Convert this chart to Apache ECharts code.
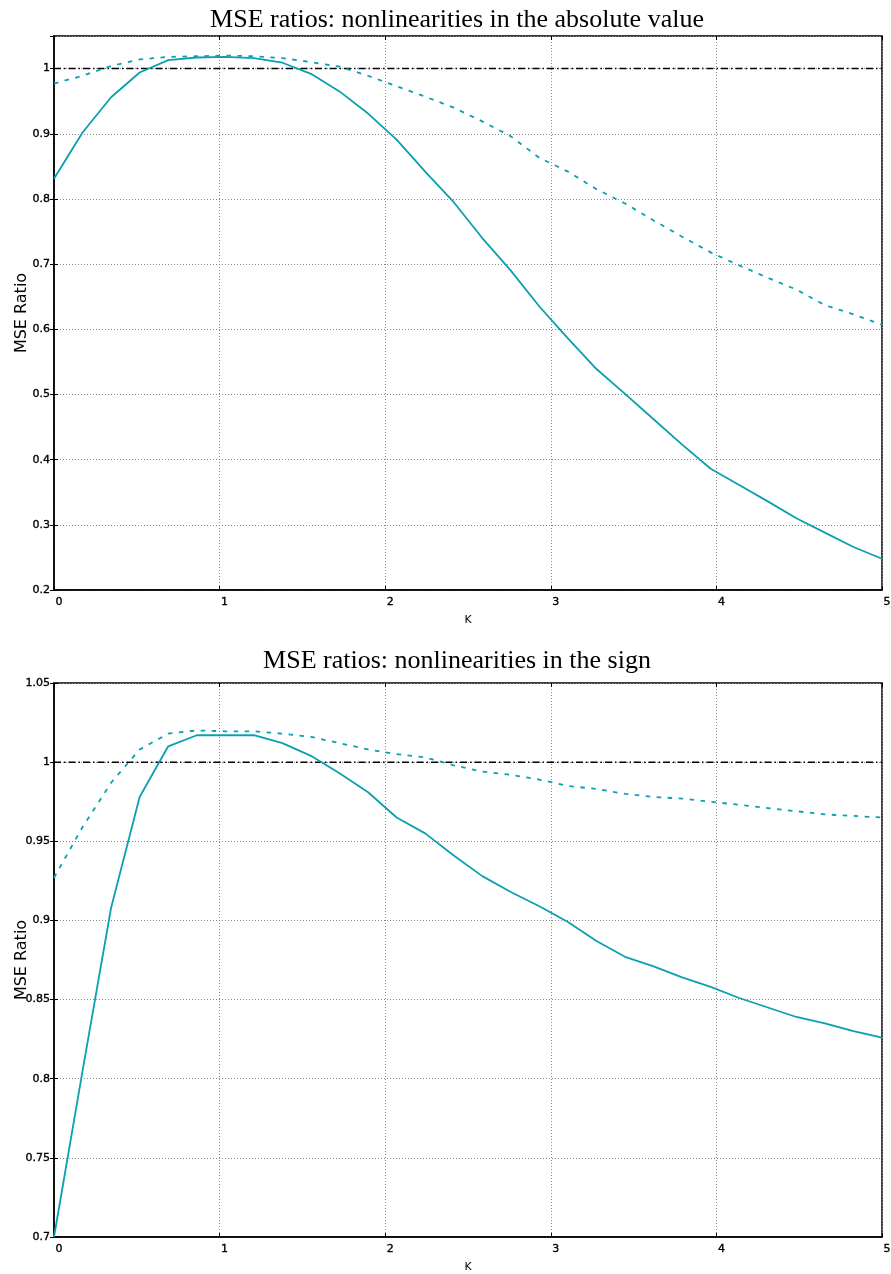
<!DOCTYPE html>
<html>
<head>
<meta charset="utf-8">
<script src="https://cdn.jsdelivr.net/npm/echarts@6/dist/echarts.min.js"></script>
<style>
html,body{margin:0;padding:0;background:#fff;}
#chart{width:891px;height:1274px;}
</style>
</head>
<body>
<div id="chart"></div>
<script>
// ---- data ----
const K = [0, 0.1724, 0.3448, 0.5172, 0.6897, 0.8621, 1.0345, 1.2069, 1.3793, 1.5517,
  1.7241, 1.8966, 2.0690, 2.2414, 2.4138, 2.5862, 2.7586, 2.9310, 3.1034, 3.2759,
  3.4483, 3.6207, 3.7931, 3.9655, 4.1379, 4.3103, 4.4828, 4.6552, 4.8276, 5];

const absSolid = [0.831, 0.902, 0.956, 0.994, 1.013, 1.017, 1.018, 1.016, 1.009, 0.992,
  0.965, 0.931, 0.891, 0.842, 0.795, 0.740, 0.690, 0.635, 0.586, 0.539,
  0.501, 0.462, 0.423, 0.386, 0.361, 0.336, 0.310, 0.288, 0.266, 0.248];
const absDashed = [0.977, 0.989, 1.004, 1.014, 1.018, 1.019, 1.020, 1.019, 1.016, 1.010,
  1.003, 0.989, 0.973, 0.957, 0.940, 0.919, 0.896, 0.863, 0.842, 0.815,
  0.793, 0.767, 0.742, 0.718, 0.698, 0.679, 0.661, 0.637, 0.623, 0.607];

const signSolid = [0.700, 0.805, 0.908, 0.978, 1.010, 1.017, 1.017, 1.017, 1.012, 1.004,
  0.993, 0.981, 0.965, 0.955, 0.941, 0.928, 0.918, 0.909, 0.899, 0.887,
  0.877, 0.871, 0.864, 0.858, 0.851, 0.845, 0.839, 0.835, 0.830, 0.826];
const signDashed = [0.927, 0.959, 0.987, 1.008, 1.018, 1.020, 1.0195, 1.0195, 1.018, 1.016,
  1.012, 1.008, 1.005, 1.003, 0.998, 0.994, 0.992, 0.989, 0.985, 0.983,
  0.980, 0.978, 0.977, 0.975, 0.973, 0.971, 0.969, 0.967, 0.966, 0.965];

const refK = [0, 5];
const refLevel = [1, 1];

const titles = ['MSE ratios: nonlinearities in the absolute value', 'MSE ratios: nonlinearities in the sign'];
const xName = 'K';
const yName = 'MSE Ratio';
const xTicks = {min: 0, max: 5, interval: 1};
const yTicksTop = {min: 0.2, max: 1.05, interval: 0.1};
const yTicksBottom = {min: 0.7, max: 1.05, interval: 0.05};

// ---- styling ----
const TEAL = '#0aa0b0';
const LBL = {fontFamily: 'DejaVu Sans', fontSize: 11, color: '#000', textBorderColor: '#000', textBorderWidth: 0.35};
const zip = (xs, ys) => xs.map((x, i) => [x, ys[i]]);

function xAxisMain(gi) {
  return {
    gridIndex: gi, type: 'value', min: xTicks.min, max: xTicks.max, interval: xTicks.interval,
    name: xName, nameLocation: 'middle', nameGap: 25, nameMoveOverlap: false,
    nameTextStyle: {fontFamily: 'DejaVu Sans', fontSize: 11, color: '#000'},
    axisLine: {show: true, onZero: false, lineStyle: {color: '#000', width: 1.5}},
    axisTick: {show: true, inside: true, length: 4, lineStyle: {color: '#000'}},
    axisLabel: Object.assign({margin: 7, padding: [0, 0, 0, 10]}, LBL),
    splitLine: {show: true, lineStyle: {color: '#888', type: [1, 2], width: 1}}
  };
}
function xAxisTop(gi) {
  return {
    gridIndex: gi, type: 'value', position: 'top', min: xTicks.min, max: xTicks.max, interval: xTicks.interval,
    axisLine: {show: false}, axisTick: {show: true, inside: true, length: 4, lineStyle: {color: '#000'}},
    axisLabel: {show: false}, splitLine: {show: false}
  };
}
function yAxisMain(gi, t) {
  return {
    gridIndex: gi, type: 'value', min: t.min, max: t.max, interval: t.interval,
    name: yName, nameLocation: 'middle', nameGap: 24, nameMoveOverlap: false,
    nameTextStyle: {fontFamily: 'DejaVu Sans', fontSize: 16, color: '#000'},
    axisLine: {show: true, onZero: false, lineStyle: {color: '#000', width: 1.5}},
    axisTick: {show: true, inside: true, length: 4, lineStyle: {color: '#000'}},
    axisLabel: Object.assign({margin: 4, showMaxLabel: gi === 1}, LBL),
    splitLine: {show: true, lineStyle: {color: '#888', type: [1, 2], width: 1}}
  };
}
function yAxisRight(gi, t) {
  return {
    gridIndex: gi, type: 'value', position: 'right', min: t.min, max: t.max, interval: t.interval,
    axisLine: {show: false}, axisTick: {show: true, inside: true, length: 4, lineStyle: {color: '#000'}},
    axisLabel: {show: false}, splitLine: {show: false}
  };
}
function lineSeries(xi, yi, data, dashed) {
  return {
    type: 'line', xAxisIndex: xi, yAxisIndex: yi, data: data, showSymbol: false, symbol: 'none',
    animation: false, silent: true,
    lineStyle: {color: TEAL, width: 1.8, type: dashed ? [4.5, 6.5] : 'solid'}
  };
}
function refSeries(xi, yi) {
  return {
    type: 'line', xAxisIndex: xi, yAxisIndex: yi, data: zip(refK, refLevel), showSymbol: false, symbol: 'none',
    animation: false, silent: true, z: 1,
    lineStyle: {color: '#000', width: 1.5, type: [7, 3, 1.5, 3]}
  };
}

const gridBase = {left: 54, width: 828, height: 554, show: true, borderColor: '#000', borderWidth: 1.5,
  backgroundColor: 'transparent', containLabel: false, outerBoundsMode: 'none'};

const chart = echarts.init(document.getElementById('chart'), null, {renderer: 'canvas'});
chart.setOption({
  backgroundColor: '#fff',
  animation: false,
  title: [
    {text: titles[0], left: 452, top: 2, textAlign: 'center',
     textStyle: {fontFamily: 'Liberation Serif', fontSize: 26, fontWeight: 'normal', color: '#000'}},
    {text: titles[1], left: 452, top: 643, textAlign: 'center',
     textStyle: {fontFamily: 'Liberation Serif', fontSize: 26, fontWeight: 'normal', color: '#000'}}
  ],
  grid: [
    Object.assign({top: 36}, gridBase),
    Object.assign({top: 683}, gridBase)
  ],
  xAxis: [xAxisMain(0), xAxisMain(1), xAxisTop(0), xAxisTop(1)],
  yAxis: [yAxisMain(0, yTicksTop), yAxisMain(1, yTicksBottom), yAxisRight(0, yTicksTop), yAxisRight(1, yTicksBottom)],
  series: [
    refSeries(0, 0),
    lineSeries(0, 0, zip(K, absSolid), false),
    lineSeries(0, 0, zip(K, absDashed), true),
    refSeries(1, 1),
    lineSeries(1, 1, zip(K, signSolid), false),
    lineSeries(1, 1, zip(K, signDashed), true)
  ]
});
</script>
</body>
</html>
